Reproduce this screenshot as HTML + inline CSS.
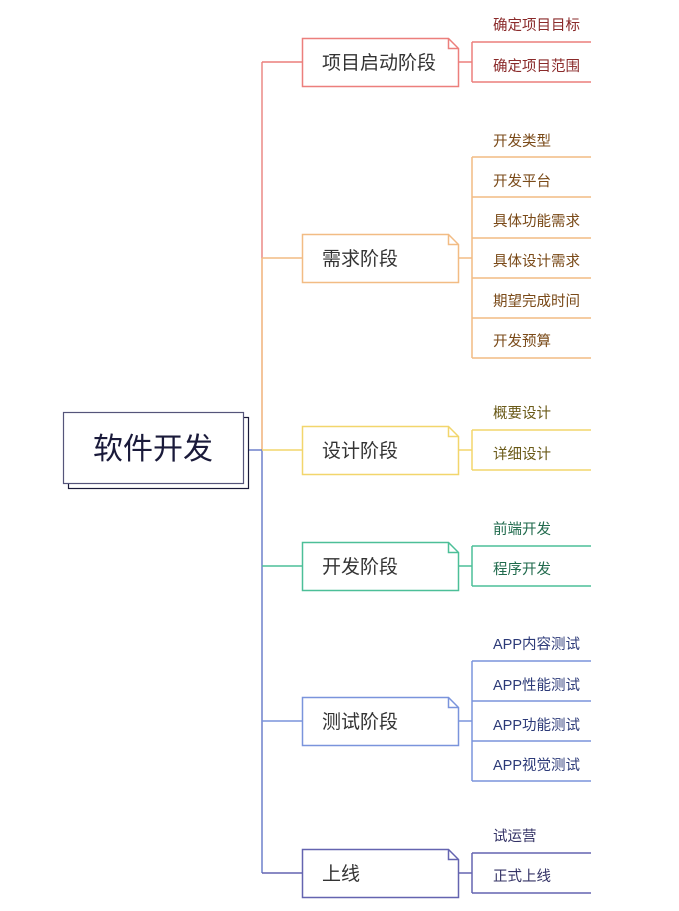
<!DOCTYPE html>
<html><head><meta charset="utf-8"><style>
html,body{margin:0;padding:0;background:#fff;}
text{font-family:"Liberation Sans","Noto Sans CJK SC",sans-serif;}
</style></head><body>
<svg width="679" height="906" viewBox="0 0 679 906" xmlns="http://www.w3.org/2000/svg">
<line x1="262" y1="62" x2="262" y2="258" stroke="#ec8a86" stroke-width="1.5"/>
<line x1="262" y1="258" x2="262" y2="450" stroke="#f0b27a" stroke-width="1.5"/>
<line x1="262" y1="450" x2="262" y2="873" stroke="#6f80cc" stroke-width="1.5"/>
<line x1="243" y1="450" x2="262" y2="450" stroke="#6f80cc" stroke-width="1.5"/>
<rect x="68.5" y="417.5" width="180" height="71" fill="#fff" stroke="#1a1a3a" stroke-width="1.2"/>
<rect x="63.5" y="412.5" width="180" height="71" fill="#fff" stroke="#55557a" stroke-width="1.2"/>
<text x="153" y="459" font-size="30" fill="#1a1a3a" text-anchor="middle">软件开发</text>

<g stroke-width="1.5" fill="none">
 <g stroke="#ec7f7c">
  <line x1="262" y1="62" x2="302" y2="62"/>
  <path d="M302.5 38.5 H448.5 L458.5 48.5 V86.5 H302.5 Z" fill="#fff"/>
  <path d="M448.5 38.5 V48.5 H458.5" />
  <line x1="458" y1="62" x2="472" y2="62"/>
  <line x1="472" y1="42" x2="472" y2="82"/>
  <line x1="472" y1="42" x2="591" y2="42"/><line x1="472" y1="82" x2="591" y2="82"/>
 </g>
 <g stroke="#f2bc84">
  <line x1="262" y1="258" x2="302" y2="258"/>
  <path d="M302.5 234.5 H448.5 L458.5 244.5 V282.5 H302.5 Z" fill="#fff"/>
  <path d="M448.5 234.5 V244.5 H458.5"/>
  <line x1="458" y1="258" x2="472" y2="258"/>
  <line x1="472" y1="157" x2="472" y2="358"/>
  <line x1="472" y1="157" x2="591" y2="157"/><line x1="472" y1="197" x2="591" y2="197"/>
  <line x1="472" y1="238" x2="591" y2="238"/><line x1="472" y1="278" x2="591" y2="278"/>
  <line x1="472" y1="318" x2="591" y2="318"/><line x1="472" y1="358" x2="591" y2="358"/>
 </g>
 <g stroke="#f2d66c">
  <line x1="262" y1="450" x2="302" y2="450"/>
  <path d="M302.5 426.5 H448.5 L458.5 436.5 V474.5 H302.5 Z" fill="#fff"/>
  <path d="M448.5 426.5 V436.5 H458.5"/>
  <line x1="458" y1="450" x2="472" y2="450"/>
  <line x1="472" y1="430" x2="472" y2="470"/>
  <line x1="472" y1="430" x2="591" y2="430"/><line x1="472" y1="470" x2="591" y2="470"/>
 </g>
 <g stroke="#4cbf98">
  <line x1="262" y1="566" x2="302" y2="566"/>
  <path d="M302.5 542.5 H448.5 L458.5 552.5 V590.5 H302.5 Z" fill="#fff"/>
  <path d="M448.5 542.5 V552.5 H458.5"/>
  <line x1="458" y1="566" x2="472" y2="566"/>
  <line x1="472" y1="546" x2="472" y2="586"/>
  <line x1="472" y1="546" x2="591" y2="546"/><line x1="472" y1="586" x2="591" y2="586"/>
 </g>
 <g stroke="#7a94dc">
  <line x1="262" y1="721" x2="302" y2="721"/>
  <path d="M302.5 697.5 H448.5 L458.5 707.5 V745.5 H302.5 Z" fill="#fff"/>
  <path d="M448.5 697.5 V707.5 H458.5"/>
  <line x1="458" y1="721" x2="472" y2="721"/>
  <line x1="472" y1="661" x2="472" y2="781"/>
  <line x1="472" y1="661" x2="591" y2="661"/><line x1="472" y1="701" x2="591" y2="701"/>
  <line x1="472" y1="741" x2="591" y2="741"/><line x1="472" y1="781" x2="591" y2="781"/>
 </g>
 <g stroke="#6464b0">
  <line x1="262" y1="873" x2="302" y2="873"/>
  <path d="M302.5 849.5 H448.5 L458.5 859.5 V897.5 H302.5 Z" fill="#fff"/>
  <path d="M448.5 849.5 V859.5 H458.5"/>
  <line x1="458" y1="873" x2="472" y2="873"/>
  <line x1="472" y1="853" x2="472" y2="893"/>
  <line x1="472" y1="853" x2="591" y2="853"/><line x1="472" y1="893" x2="591" y2="893"/>
 </g>
</g>

<g font-size="19" fill="#333">
 <text x="322" y="69">项目启动阶段</text>
 <text x="322" y="265">需求阶段</text>
 <text x="322" y="457">设计阶段</text>
 <text x="322" y="573">开发阶段</text>
 <text x="322" y="728">测试阶段</text>
 <text x="322" y="880">上线</text>
</g>
<g font-size="14.5">
 <g fill="#8a2a2a"><text x="493" y="30">确定项目目标</text><text x="493" y="71">确定项目范围</text></g>
 <g fill="#7a4a18">
  <text x="493" y="146">开发类型</text><text x="493" y="186">开发平台</text>
  <text x="493" y="226">具体功能需求</text><text x="493" y="266">具体设计需求</text>
  <text x="493" y="306">期望完成时间</text><text x="493" y="346">开发预算</text>
 </g>
 <g fill="#6a5a18"><text x="493" y="418">概要设计</text><text x="493" y="459">详细设计</text></g>
 <g fill="#1f6a4c"><text x="493" y="534">前端开发</text><text x="493" y="574">程序开发</text></g>
 <g fill="#2c3a78">
  <text x="493" y="649">APP内容测试</text><text x="493" y="690">APP性能测试</text>
  <text x="493" y="730">APP功能测试</text><text x="493" y="770">APP视觉测试</text>
 </g>
 <g fill="#343366"><text x="493" y="841">试运营</text><text x="493" y="881">正式上线</text></g>
</g>
</svg>
</body></html>
